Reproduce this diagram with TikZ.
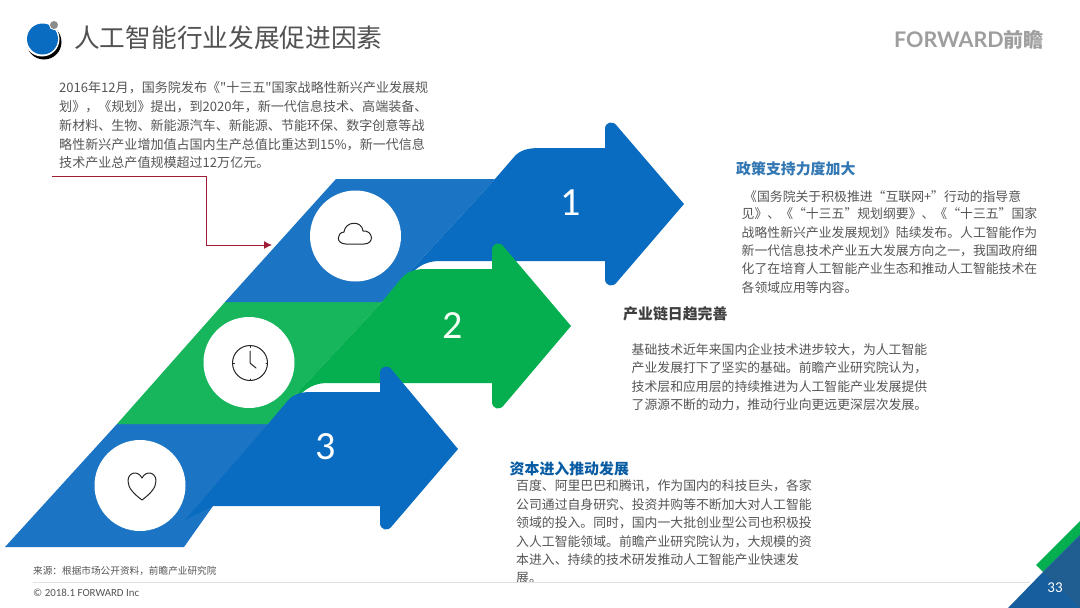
\documentclass[tikz,border=0pt]{standalone}
\usepackage{fontspec}
\setmainfont{Noto Sans CJK SC}[Ligatures=TeXOff]
\newfontfamily\latinf{Carlito}
\newfontfamily\logof{Lato}
\usetikzlibrary{arrows.meta}
\definecolor{bandblue}{HTML}{1B75C4}
\definecolor{arrowblue}{HTML}{0A6CC0}
\definecolor{bandgreen}{HTML}{17B55C}
\definecolor{arrowgreen}{HTML}{05AF50}
\definecolor{bodygray}{HTML}{555555}
\definecolor{headgray}{HTML}{3F3F3F}
\definecolor{linkred}{HTML}{A01C34}
\tikzset{
  x=1pt,y=-1pt,
  bodytext/.style={anchor=west,inner sep=0pt,text=bodygray,font=\fontsize{12.85}{13}\selectfont},
  lefttext/.style={anchor=west,inner sep=0pt,text=bodygray,font=\fontsize{13.05}{13}\selectfont},
  headtext/.style={anchor=west,inner sep=0pt,text=headgray,font=\fontsize{14.9}{15}\selectfont\bfseries},
  numtext/.style={inner sep=0pt,text=white,font=\latinf\fontsize{40}{40}\selectfont},
  whitedisc/.style={circle,fill=white,minimum size=91pt,inner sep=0pt},
  iconline/.style={draw=black!85,line width=1pt,line join=round,line cap=round},
}
\begin{document}
\begin{tikzpicture}
\useasboundingbox (0,0) rectangle (1080,608);
\fill[white] (0,0) rectangle (1080,608);
% title mark
\fill[black] (44,42) circle (17.5);
\fill[white] (42,39) circle (17.5);
\fill[arrowblue] (42.5,39) circle (15.5);
\fill[white] (54,25) circle (5);
\fill[black!45] (54,25) circle (4);
\node[anchor=west,inner sep=0pt,text=black!68,font=\fontsize{25.7}{26}\selectfont] (title) at (74,38) {人工智能行业发展促进因素};
\node[anchor=west,inner sep=0pt,text=black!38,font=\logof\fontsize{21.5}{22}\selectfont\bfseries] (logo) at (894,39.5) {FORWARD\fontspec{Noto Sans CJK SC}\fontsize{20}{20}\selectfont\bfseries 前瞻};
% left text
\node[lefttext] (t1) at (59,88) {2016年12月，国务院发布《"十三五"国家战略性新兴产业发展规};
\node[lefttext] (t2) at (59,107) {划》，《规划》提出，到2020年，新一代信息技术、高端装备、};
\node[lefttext] (t3) at (59,126) {新材料、生物、新能源汽车、新能源、节能环保、数字创意等战};
\node[lefttext] (t4) at (59,145) {略性新兴产业增加值占国内生产总值比重达到15\%，新一代信息};
\node[lefttext] (t5) at (59,163) {技术产业总产值规模超过12万亿元。};
% connector
\coordinate (ca) at (52,176);
\coordinate (cb) at (272,245);
\draw[linkred,line width=1pt,-{Latex[length=8pt,width=8pt]}] (ca) -| (206,245) -- (cb);
% band 3
\fill[bandblue] (117,424) -- (268,424) -- (213,506) -- (184,547) -- (5,547) -- cycle;
% band 2
\fill[bandgreen] (225,302) -- (382,302) -- (268,424) -- (117,424) -- cycle;
% band 1
\fill[bandblue] (336,179) -- (495,179) -- (382,302) -- (225,302) -- cycle;
% arrow 1
\fill[arrowblue] (495,179) -- (514,157) .. controls (520,150) and (528,148) .. (540,148) -- (605,148) -- (605,129) .. controls (605,122) and (613,120) .. (617,126) -- (684,204) -- (617,282) .. controls (613,288) and (605,286) .. (605,279) -- (605,261) -- (440,261) .. controls (430,261) and (422,264) .. (415,270) -- (382,302) -- cycle;
% arrow 2
\fill[arrowgreen] (382,302) -- (400,280) .. controls (406,272) and (414,269) .. (425,269) -- (492,269) -- (492,250) .. controls (492,243) and (500,241) .. (504,247) -- (571,326) -- (504,405) .. controls (500,411) and (492,409) .. (492,402) -- (492,383) -- (328,383) .. controls (318,383) and (310,386) .. (303,392) -- (268,424) -- cycle;
% arrow 3
\fill[arrowblue] (268,424) -- (285,404) .. controls (291,395) and (300,392) .. (310,392) -- (380,392) -- (380,373) .. controls (380,366) and (388,364) .. (392,370) -- (458,449) -- (392,526) .. controls (388,532) and (380,530) .. (380,523) -- (380,506) -- (213,506) -- (185,520) -- cycle;
% discs
\node[whitedisc] (d1) at (355.5,236) {};
\node[whitedisc] (d2) at (249,362.5) {};
\node[whitedisc] (d3) at (140,485.5) {};
% cloud
\draw[iconline] (346,244) .. controls (336,244) and (336,233) .. (344,232) .. controls (345,221) and (362,220) .. (363,231) .. controls (373,230) and (375,244) .. (364,244) -- cycle;
% clock
\draw[iconline] (250,363) circle (17.5);
\draw[iconline] (250,351) -- (250,363) -- (256,368);
\draw[iconline] (250,346) -- (250,347.5) (250,379) -- (250,380.5) (233,363) -- (234.5,363) (266,363) -- (267.5,363);
% heart
\draw[iconline] (142,500) .. controls (134,494) and (128,488) .. (128,481) .. controls (128,472) and (138,470) .. (142,478) .. controls (146,470) and (156,472) .. (156,481) .. controls (156,488) and (150,494) .. (142,500) -- cycle;
% numbers
\node[numtext] (n1) at (571,203) {1};
\node[numtext,text=white!95!green] (n2) at (453,326) {2};
\node[numtext] (n3) at (326,447) {3};
% right text
\node[headtext,text=black!30!blue!55!cyan!60!gray] (h1) at (736,168.5) {政策支持力度加大};
\node[bodytext] (a1) at (744,197) {《国务院关于积极推进“互联网+”行动的指导意};
\node[bodytext] (a2) at (741.5,214) {见》、《“十三五”规划纲要》、《“十三五”国家};
\node[bodytext] (a3) at (741.5,232.5) {战略性新兴产业发展规划》陆续发布。人工智能作为};
\node[bodytext] (a4) at (741.5,251) {新一代信息技术产业五大发展方向之一，我国政府细};
\node[bodytext] (a5) at (741.5,269) {化了在培育人工智能产业生态和推动人工智能技术在};
\node[bodytext] (a6) at (741.5,287.5) {各领域应用等内容。};
\node[headtext] (h2) at (623,314) {产业链日趋完善};
\node[bodytext] (b1) at (631.5,349.5) {基础技术近年来国内企业技术进步较大，为人工智能};
\node[bodytext] (b2) at (631.5,368) {产业发展打下了坚实的基础。前瞻产业研究院认为，};
\node[bodytext] (b3) at (631.5,386.5) {技术层和应用层的持续推进为人工智能产业发展提供};
\node[bodytext] (b4) at (631.5,405) {了源源不断的动力，推动行业向更远更深层次发展。};
\node[headtext,text=arrowblue!85!black] (h3) at (509.5,469) {资本进入推动发展};
\node[bodytext] (c1) at (516,486) {百度、阿里巴巴和腾讯，作为国内的科技巨头，各家};
\node[bodytext] (c2) at (516,504.5) {公司通过自身研究、投资并购等不断加大对人工智能};
\node[bodytext] (c3) at (516,523) {领域的投入。同时，国内一大批创业型公司也积极投};
\node[bodytext] (c4) at (516,541.5) {入人工智能领域。前瞻产业研究院认为，大规模的资};
\node[bodytext] (c5) at (516,560) {本进入、持续的技术研发推动人工智能产业快速发};
\node[bodytext] (c6) at (516,578) {展。};
% footer
\node[anchor=west,inner sep=0pt,text=bodygray,font=\fontsize{9.65}{10}\selectfont] (src) at (33,571) {来源：根据市场公开资料，前瞻产业研究院};
\node[anchor=west,inner sep=0pt,text=bodygray,font=\latinf\fontsize{10.9}{11}\selectfont] (copy) at (33,592.5) {© 2018.1 FORWARD Inc};
\draw[black!12,line width=0.8pt] (33,582) -- (1030,582);
% corner
\fill[arrowgreen] (1036,565) -- (1080,521) -- (1080,535) -- (1043,572) -- cycle;
\fill[bandblue!80!black] (1008,608) -- (1043,572) -- (1080,535) -- (1080,608) -- cycle;
\fill[arrowblue!70!black!90] (1043,572) -- (1080,535) -- (1080,608) -- cycle;
\node[inner sep=0pt,text=white,font=\latinf\fontsize{15}{15}\selectfont] (pg) at (1055,588) {33};
\end{tikzpicture}
\end{document}
